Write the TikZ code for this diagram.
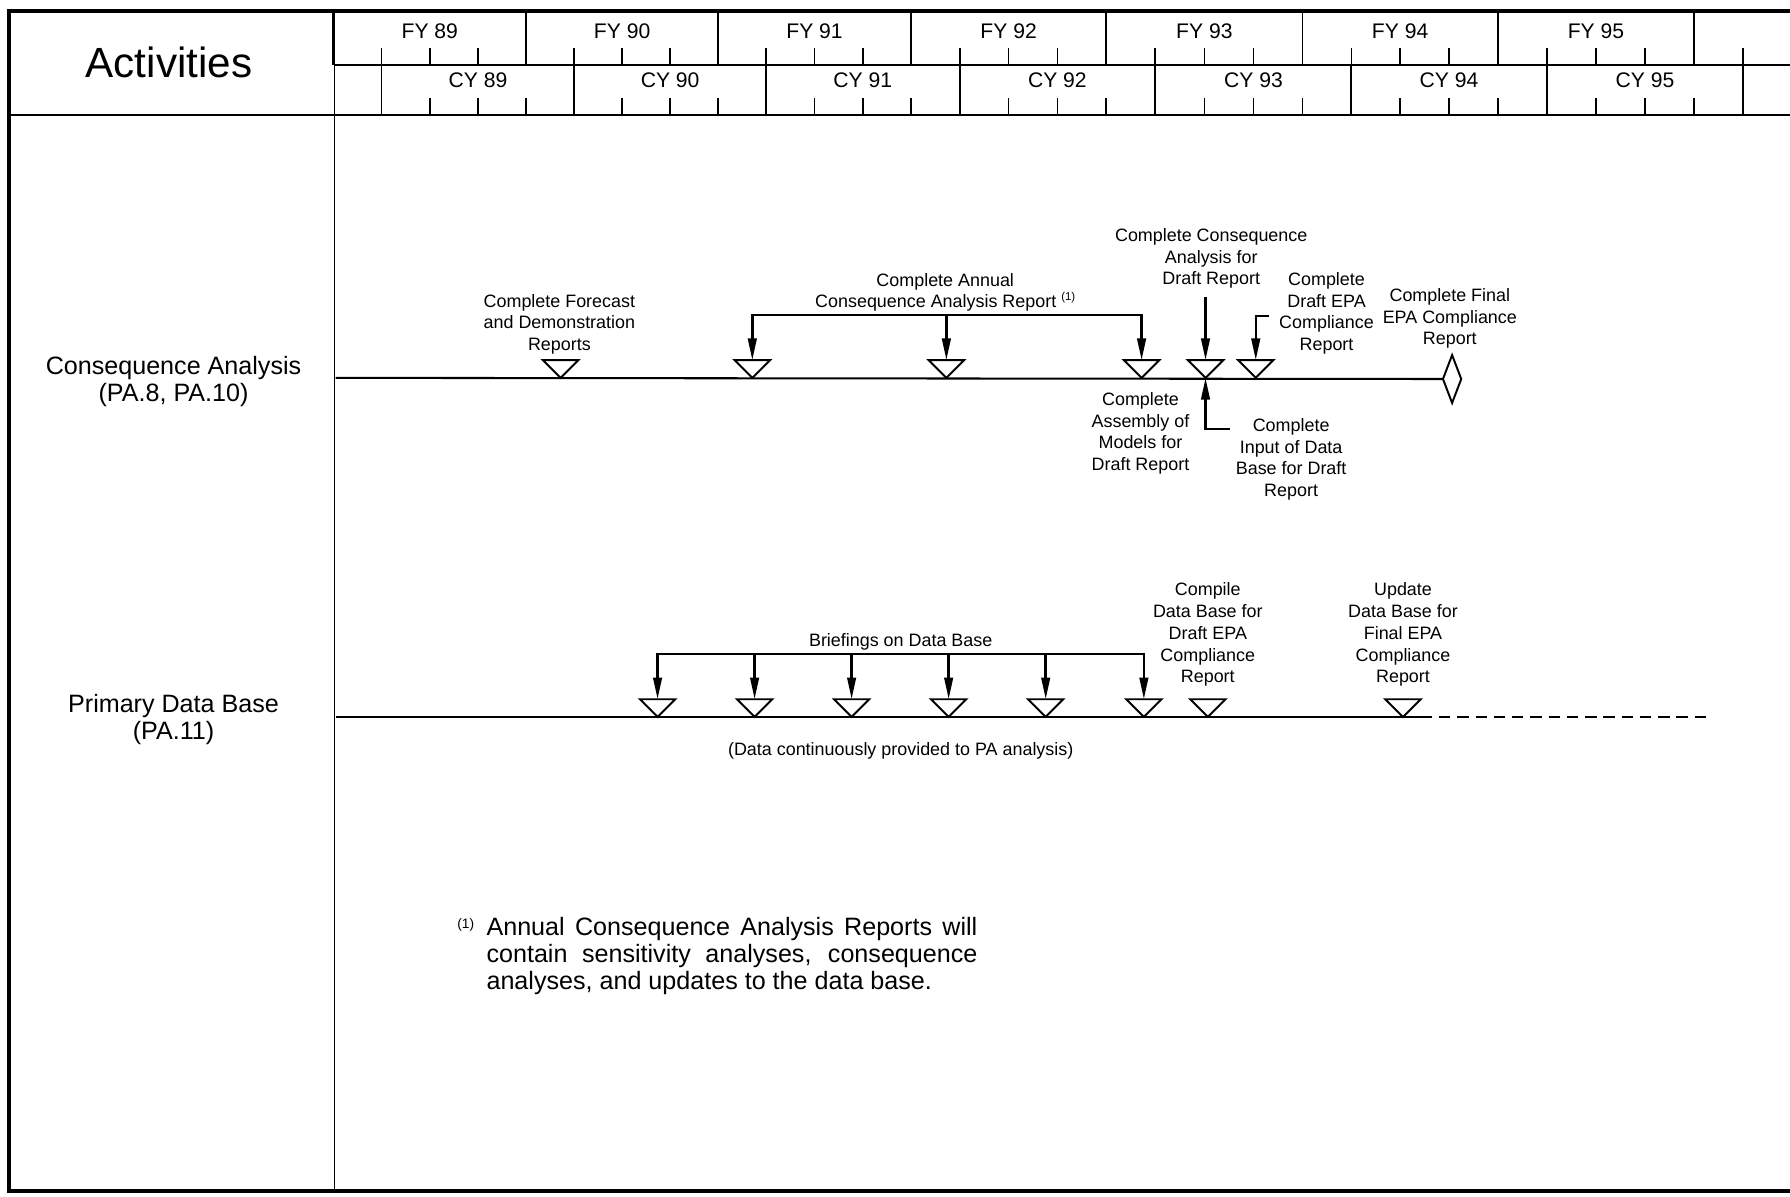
\documentclass[tikz,border=0pt]{standalone}
\usepackage{fontspec}
\setmainfont{Liberation Sans}
\usetikzlibrary{arrows.meta}
\begin{document}
\begin{tikzpicture}[x=1pt,y=-1pt,
  frame/.style={line width=3.6pt, line join=miter},
  rule/.style={line width=1.6pt},
  tick/.style={line width=1.4pt},
  tline/.style={line width=1.8pt},
  arr/.style={line width=2.2pt, -{Triangle[length=19pt,width=7.5pt]}},
  mstone/.style={shape=rectangle, minimum width=31pt, minimum height=15.5pt, inner sep=0pt, outer sep=0pt, anchor=south},
  msym/.style={line width=1.7pt, fill=white, line join=miter},
  lbl/.style={font=\fontsize{15.7}{19}\selectfont, align=center, inner sep=0pt},
  big/.style={font=\fontsize{22}{24}\selectfont, align=center, inner sep=0pt},
  yr/.style={font=\fontsize{18.5}{20}\selectfont, inner sep=0pt},
  title/.style={font=\fontsize{37}{40}\selectfont, inner sep=0pt},
  supmark/.style={font=\fontsize{12}{12}\selectfont, inner sep=0pt},
]
\useasboundingbox (0,0) rectangle (1568,1048);
\fill[white] (0,0) rectangle (1568,1048);

% ---- time scale: fiscal years (top row) and calendar years (bottom row)
\begin{scope}
\clip (0,0) rectangle (1568,1048);
\foreach \a/\b/\y in {292/461/89, 461/629/90, 629/798/91, 798/969/92, 969/1141/93, 1141/1312/94, 1312/1484/95, 1484/1655/96}{
  \pgfmathsetmacro{\q}{(\b-\a)/4}
  \pgfmathsetmacro{\qa}{\a+\q}
  \pgfmathsetmacro{\qb}{\a+2*\q}
  \pgfmathsetmacro{\qc}{\a+3*\q}
  \draw[rule] (\a,10) -- (\a,57);
  \draw[tick] (\qa,42) -- (\qa,57);
  \draw[tick] (\qb,42) -- (\qb,57);
  \draw[tick] (\qc,42) -- (\qc,57);
  \draw[rule] (\qa,57) -- (\qa,101);
  \draw[tick] (\qb,86) -- (\qb,101);
  \draw[tick] (\qc,86) -- (\qc,101);
  \draw[tick] (\b,86) -- (\b,101);
}
\end{scope}
\foreach \a/\b/\y in {292/461/89, 461/629/90, 629/798/91, 798/969/92, 969/1141/93, 1141/1312/94, 1312/1484/95}{
  \pgfmathsetmacro{\q}{(\b-\a)/4}
  \node[yr] (fy\y) at ({(\a+\b)/2},27) {FY \y};
  \node[yr] (cy\y) at ({(\a+\b)/2+\q},70.5) {CY \y};
}

% ---- frame and column rules
\draw[frame] (1568,10) -- (8,10) -- (8,1043) -- (1568,1043);
\draw[rule] (293,10) -- (293,1043);
\draw[rule] (8,101) -- (1568,101);
\draw[rule] (293,57) -- (1568,57);

\node[title] (act) at (148,55) {Activities};
\node[big] (rowca) at (152,334) {Consequence Analysis\\(PA.8, PA.10)};
\node[big] (rowdb) at (152,630) {Primary Data Base\\(PA.11)};

% ---- consequence analysis milestones
\coordinate (caL) at (294,331);
\foreach \n/\x in {ca1/491, ca2/659, ca3/829, ca4/1000, ca5/1056, ca6/1100}
  \node[mstone] (\n) at (\x,331) {};
\node[shape=rectangle, minimum width=16pt, minimum height=42pt, inner sep=0pt, outer sep=0pt] (cfd) at (1272,332) {};
\draw[tline] (caL) -- (cfd.west);
\foreach \n in {ca1,ca2,ca3,ca4,ca5,ca6}
  \draw[msym] (\n.north west) -- (\n.north east) -- (\n.south) -- cycle;
\draw[msym] (cfd.west) -- (cfd.north) -- (cfd.east) -- (cfd.south) -- cycle;

\node[lbl] (fc) at (490,284) {Complete Forecast\\and Demonstration\\Reports};
\node[lbl] (car) at (828,256) {Complete Annual\\Consequence Analysis Report \raisebox{0.42em}{\fontsize{10}{10}\selectfont(1)}};
\coordinate (carB) at (829,276);
\draw[arr] (carB) -| (ca2.north);
\draw[arr] (carB) -| (ca4.north);
\draw[arr] (carB) -- (ca3.north);

\node[lbl] (cca) at (1061,226.5) {Complete Consequence\\Analysis for\\Draft Report};
\coordinate (ccaA) at (1056,260);
\draw[arr] (ccaA) -- (ca5.north);

\node[lbl] (cde) at (1162,274.5) {Complete\\Draft EPA\\Compliance\\Report};
\coordinate (cdeA) at (1112,277);
\draw[arr] (cdeA) -| (ca6.north);

\node[lbl] (cfe) at (1270,279) {Complete Final\\EPA Compliance\\Report};
\node[lbl] (cam) at (999,379.5) {Complete\\Assembly of\\Models for\\Draft Report};
\node[lbl] (cid) at (1131,402.5) {Complete\\Input of Data\\Base for Draft\\Report};
\coordinate (cidA) at (1077,376);
\draw[arr] (cidA) -| (ca5.south);

% ---- primary data base milestones
\coordinate (dbL) at (294,628);
\coordinate (dbR) at (1500,628);
\foreach \n/\x in {db1/576, db2/661, db3/746, db4/831, db5/916, db6/1002, db7/1058, db8/1229}
  \node[mstone] (\n) at (\x,628) {};
\draw[tline] (dbL) -- (db8.south east);
\draw[tline, dash pattern=on 10pt off 6pt] (db8.south east) -- (dbR);
\foreach \n in {db1,db2,db3,db4,db5,db6,db7,db8}
  \draw[msym] (\n.north west) -- (\n.north east) -- (\n.south) -- cycle;

\node[lbl] (bdb) at (789,562.5) {Briefings on Data Base};
\coordinate (bdbB) at (789,573);
\draw[arr] (bdbB) -| (db1.north);
\draw[arr] (bdbB) -| (db6.north);
\foreach \n in {db2,db3,db4,db5}
  \draw[arr] (\n.north |- bdbB) -- (\n.north);

\node[lbl] (cdb) at (1058,556) {Compile\\Data Base for\\Draft EPA\\Compliance\\Report};
\node[lbl] (udb) at (1229,556) {Update\\Data Base for\\Final EPA\\Compliance\\Report};
\node[lbl] (dcp) at (789,657.5) {(Data continuously provided to PA analysis)};

% ---- footnote
\node[supmark] (notemark) at (408,810) {(1)};
\node[big, align=left, anchor=west] (note) at (426,837.5) {\makebox[430pt][s]{Annual Consequence Analysis Reports will}\\\makebox[430pt][s]{contain sensitivity analyses, consequence}\\analyses, and updates to the data base.};
\end{tikzpicture}
\end{document}
